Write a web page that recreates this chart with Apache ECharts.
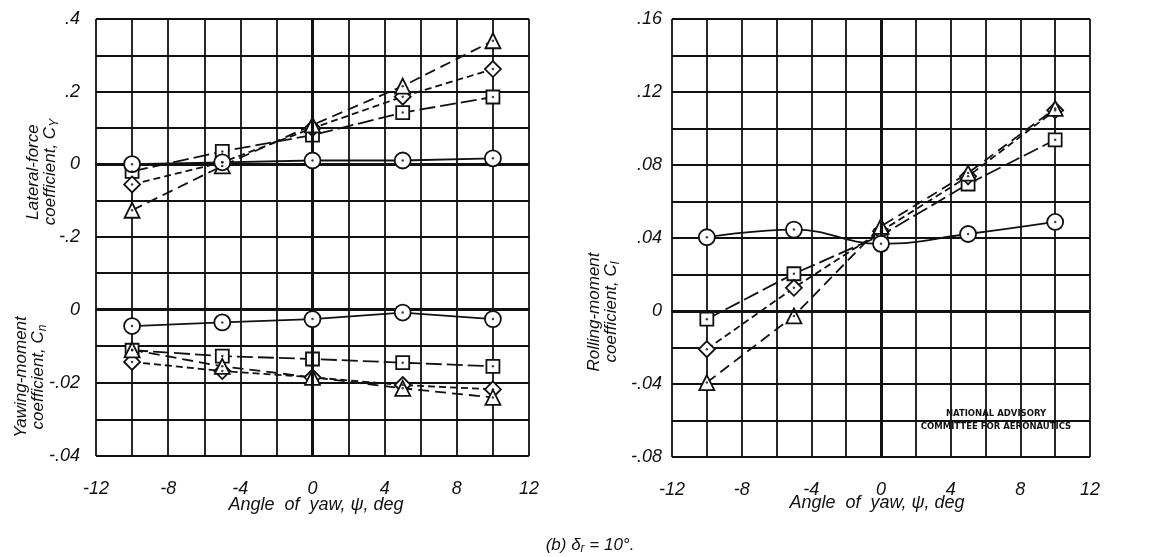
<!DOCTYPE html>
<html>
<head>
<meta charset="utf-8">
<script src="https://cdn.jsdelivr.net/npm/echarts@6/dist/echarts.min.js"></script>
<style>
  html, body { margin: 0; padding: 0; background: #fff; }
  #chart { width: 1161px; height: 557px; }
</style>
</head>
<body>
<div id="chart"></div>
<script>
// yaw angles, deg
const angles = [-10, -5, 0, 5, 10];

// lateral-force coefficient, CY
const cyCircle = [0.0, 0.005, 0.01, 0.01, 0.016];
const cySquare = [-0.02, 0.035, 0.08, 0.142, 0.185];
const cyDiamond = [-0.056, 0.005, 0.099, 0.186, 0.262];
const cyTriangle = [-0.127, -0.005, 0.108, 0.215, 0.34];

// yawing-moment coefficient, Cn
const cnCircle = [-0.0045, -0.0035, -0.0026, -0.0008, -0.0026];
const cnSquare = [-0.0111, -0.0127, -0.0135, -0.0145, -0.0155];
const cnDiamond = [-0.0143, -0.0168, -0.0185, -0.0206, -0.0218];
const cnTriangle = [-0.011, -0.0155, -0.0185, -0.0215, -0.024];

// rolling-moment coefficient, Cl
const clCircle = [0.0404, 0.0446, 0.0368, 0.0422, 0.0488];
const clSquare = [-0.0045, 0.0204, 0.0414, 0.0696, 0.0938];
const clDiamond = [-0.0209, 0.0127, 0.0437, 0.0738, 0.110];
const clTriangle = [-0.0392, -0.0027, 0.0464, 0.0756, 0.111];

// tick labels
const xTicks = [-12, -8, -4, 0, 4, 8, 12];
const cyTicks = [0.4, 0.2, 0, -0.2];
const cnTicks = [0, -0.02, -0.04];
const clTicks = [0.16, 0.12, 0.08, 0.04, 0, -0.04, -0.08];

const FONT = "Liberation Sans";
const INK = "#111";

const pairs = (ys) => angles.map((a, i) => [a, ys[i]]);

const fmt = (v) => {
  const r = Math.round(v * 1000) / 1000;
  if (r === 0) return "0";
  return String(r).replace("0.", ".");
};
const inList = (list, v) => list.some((t) => Math.abs(t - v) < 1e-9);

const diamondPath = "path://M0,-1L1,0L0,1L-1,0Z";
const marks = {
  circle: { symbol: "circle", size: 16, dash: "solid" },
  square: { symbol: "rect", size: 13, dash: [16, 5] },
  diamond: { symbol: diamondPath, size: 16, dash: [7, 4] },
  triangle: { symbol: "triangle", size: 15, dash: [11, 6] }
};

const lineSeries = (idx, kind, ys, extra = {}) => ({
  type: "line",
  xAxisIndex: idx,
  yAxisIndex: idx,
  data: pairs(ys),
  symbol: marks[kind].symbol,
  symbolSize: marks[kind].size,
  showAllSymbol: true,
  lineStyle: { color: INK, width: 1.8, type: marks[kind].dash },
  itemStyle: { color: "#fff", borderColor: INK, borderWidth: 1.8 },
  emphasis: { disabled: true },
  silent: true,
  z: 4,
  ...extra
});

const dotSeries = (idx, all) => ({
  type: "scatter",
  xAxisIndex: idx,
  yAxisIndex: idx,
  data: all.flatMap((ys) => pairs(ys)),
  symbol: "circle",
  symbolSize: 2.5,
  itemStyle: { color: INK },
  silent: true,
  z: 6
});

const zeroLines = {
  silent: true,
  symbol: "none",
  label: { show: false },
  lineStyle: { color: INK, width: 3, type: "solid" },
  data: [{ yAxis: 0 }, { xAxis: 0 }]
};

const makeX = (idx, showLabels) => ({
  type: "value",
  gridIndex: idx,
  min: -12,
  max: 12,
  interval: 2,
  axisLine: { show: true, lineStyle: { color: INK, width: 2 } },
  axisTick: { show: false },
  splitLine: { show: true, lineStyle: { color: INK, width: 1.8 } },
  axisLabel: {
    show: showLabels,
    margin: 24,
    fontFamily: FONT,
    fontStyle: "italic",
    fontSize: 18,
    color: INK,
    formatter: (v) => (inList(xTicks, v) ? String(v) : "")
  }
});

const makeY = (idx, min, max, interval, ticks, margin) => ({
  type: "value",
  gridIndex: idx,
  min,
  max,
  interval,
  axisLine: { show: true, lineStyle: { color: INK, width: 2 } },
  axisTick: { show: false },
  splitLine: { show: true, lineStyle: { color: INK, width: 1.8 } },
  axisLabel: {
    margin,
    fontFamily: FONT,
    fontStyle: "italic",
    fontSize: 18,
    color: INK,
    formatter: (v) => (inList(ticks, v) ? fmt(v) : "")
  }
});

const titleText = (x, y, line1, line2, sub) => ({
  type: "text",
  x,
  y,
  rotation: Math.PI / 2,
  style: {
    text: `{t|${line1}}\n{t|${line2}}{s|${sub}}`,
    rich: {
      t: { fontFamily: FONT, fontStyle: "italic", fontSize: 17, fill: INK, lineHeight: 17 },
      s: { fontFamily: FONT, fontStyle: "italic", fontSize: 12, fill: INK, lineHeight: 17, padding: [8, 0, 0, 0] }
    },
    align: "center",
    verticalAlign: "middle"
  }
});

const axisTitle = (x, y) => ({
  type: "text",
  x,
  y,
  style: {
    text: "Angle  of  yaw, ψ, deg",
    fontFamily: FONT,
    fontStyle: "italic",
    fontSize: 18,
    fill: INK,
    align: "center",
    verticalAlign: "middle"
  }
});

const chart = echarts.init(document.getElementById("chart"), null, { renderer: "canvas" });

chart.setOption({
  backgroundColor: "#fff",
  animation: false,
  grid: [
    { left: 96, top: 19, width: 433, height: 254 },
    { left: 96, top: 273, width: 433, height: 183 },
    { left: 672, top: 19, width: 418, height: 438 }
  ],
  xAxis: [makeX(0, false), makeX(1, true), makeX(2, true)],
  yAxis: [
    makeY(0, -0.3, 0.4, 0.1, cyTicks, 16),
    makeY(1, -0.04, 0.01, 0.01, cnTicks, 16),
    makeY(2, -0.08, 0.16, 0.02, clTicks, 10)
  ],
  series: [
    lineSeries(0, "circle", cyCircle, { markLine: zeroLines, z: 5 }),
    lineSeries(0, "square", cySquare),
    lineSeries(0, "diamond", cyDiamond),
    lineSeries(0, "triangle", cyTriangle),
    dotSeries(0, [cyCircle, cySquare, cyDiamond, cyTriangle]),

    lineSeries(1, "circle", cnCircle, { markLine: zeroLines, z: 5 }),
    lineSeries(1, "square", cnSquare),
    lineSeries(1, "diamond", cnDiamond),
    lineSeries(1, "triangle", cnTriangle),
    dotSeries(1, [cnCircle, cnSquare, cnDiamond, cnTriangle]),

    lineSeries(2, "circle", clCircle, { markLine: zeroLines, smooth: 0.45, z: 5 }),
    lineSeries(2, "square", clSquare),
    lineSeries(2, "diamond", clDiamond),
    lineSeries(2, "triangle", clTriangle),
    dotSeries(2, [clCircle, clSquare, clDiamond, clTriangle])
  ],
  graphic: [
    titleText(42, 172, "Lateral-force", "coefficient, C", "Y"),
    titleText(30, 377, "Yawing-moment", "coefficient, C", "n"),
    titleText(603, 312, "Rolling-moment", "coefficient, C", "l"),
    axisTitle(316, 505),
    axisTitle(877, 503),
    {
      type: "text",
      x: 590,
      y: 545,
      style: {
        text: "{t|(b) δ}{s|r}{t| = 10°.}",
        rich: {
          t: { fontFamily: FONT, fontStyle: "italic", fontSize: 17, fill: INK },
          s: { fontFamily: FONT, fontStyle: "italic", fontSize: 12, fill: INK, padding: [8, 0, 0, 0] }
        },
        align: "center",
        verticalAlign: "middle"
      }
    },
    {
      type: "group",
      x: 926,
      y: 406,
      z: 20,
      children: [
        { type: "rect", shape: { x: 0, y: 0, width: 140, height: 28 }, style: { fill: "#fff" } },
        {
          type: "text",
          x: 70,
          y: 14,
          style: {
            text: "NATIONAL ADVISORY\nCOMMITTEE FOR AERONAUTICS",
            fontFamily: "DejaVu Sans",
            fontWeight: "bold",
            fontSize: 8.5,
            lineHeight: 13,
            fill: INK,
            align: "center",
            verticalAlign: "middle"
          }
        }
      ]
    }
  ]
});
</script>
</body>
</html>
